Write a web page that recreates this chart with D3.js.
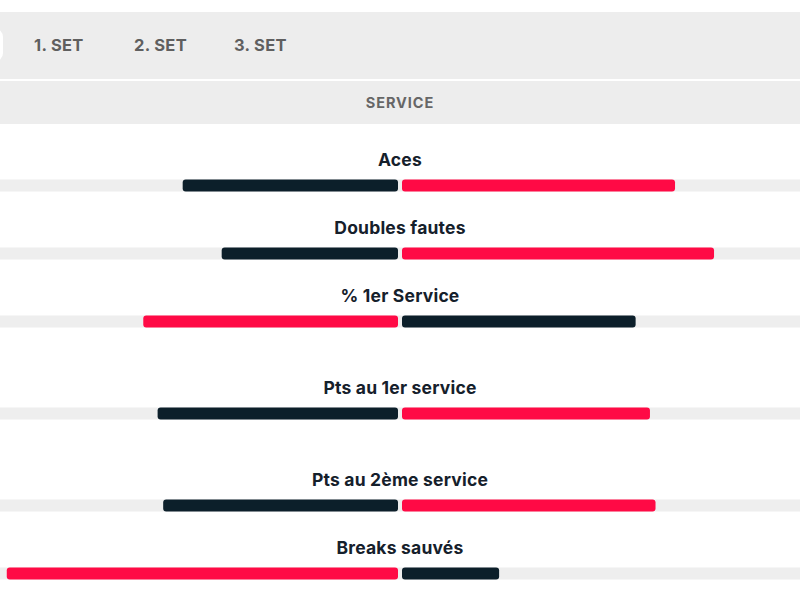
<!DOCTYPE html>
<html>
<head>
<meta charset="utf-8">
<script src="https://cdn.jsdelivr.net/npm/d3@7"></script>
<style>
  html, body { margin: 0; padding: 0; background: #ffffff; }
  svg { display: block; }
  text { font-family: Inter, "Noto Sans", sans-serif; }
</style>
</head>
<body>
<svg id="chart" width="800" height="600"></svg>
<script>
// ---- data ----
const tabs = ["1. SET", "2. SET", "3. SET"];
const sectionTitle = "SERVICE";
const categories = ["Aces", "Doubles fautes", "% 1er Service", "Pts au 1er service", "Pts au 2ème service", "Breaks sauvés"];
const leftValues  = [54.1, 44.3, 64.0, 60.4, 59.0, 98.3];   // % of half width
const rightValues = [68.6, 78.4, 58.7, 62.3, 63.7, 24.4];

// ---- layout / style ----
const W = 800, H = 600, cx = 400, gap = 2;
const RED = "#ff0a45", DARK = "#0c1f2a", TRACK = "#eeeeee", BAND = "#ededed";
const barH = 12;
const rowTop0 = 179.5, rowStep = 68;
const extraBefore = [0, 0, 0, 24, 48, 48];

const svg = d3.select("#chart");

// header bands
svg.append("rect").attr("x", 0).attr("y", 12).attr("width", W).attr("height", 67).attr("fill", BAND);
svg.append("rect").attr("x", 0).attr("y", 81).attr("width", W).attr("height", 43).attr("fill", BAND);
// selected tab (cut off at left)
svg.append("rect").attr("x", -60).attr("y", 28).attr("width", 63).attr("height", 34).attr("rx", 9).attr("fill", "#ffffff");

const tabX = d3.scalePoint().domain(tabs).range([34, 234]);
svg.selectAll("text.tab").data(tabs).enter().append("text")
  .attr("class", "tab")
  .attr("x", d => tabX(d)).attr("y", 51)
  .attr("font-size", 16.5).attr("font-weight", 700).attr("fill", "#5f5f5f")
  .attr("letter-spacing", 0.3)
  .text(d => d);

svg.append("text").attr("x", cx).attr("y", 108).attr("text-anchor", "middle")
  .attr("font-size", 14.5).attr("font-weight", 700).attr("fill", "#666666")
  .attr("letter-spacing", 0.9)
  .text(sectionTitle);

// scales
const w = d3.scaleLinear().domain([0, 100]).range([0, cx - gap]);
const rowY = (i) => rowTop0 + i * rowStep + extraBefore[i];

const rows = categories.map((c, i) => ({ c, l: leftValues[i], r: rightValues[i], i }));

const g = svg.selectAll("g.row").data(rows).enter().append("g")
  .attr("class", "row")
  .attr("transform", d => `translate(0,${rowY(d.i)})`);

g.append("rect").attr("x", 0).attr("y", 0).attr("width", W).attr("height", barH).attr("fill", TRACK);

g.append("rect")
  .attr("x", d => cx - gap - w(d.l)).attr("y", 0)
  .attr("width", d => w(d.l)).attr("height", barH).attr("rx", 3)
  .attr("fill", d => d.l >= d.r ? RED : DARK);

g.append("rect")
  .attr("x", cx + gap).attr("y", 0)
  .attr("width", d => w(d.r)).attr("height", barH).attr("rx", 3)
  .attr("fill", d => d.r > d.l ? RED : DARK);

g.append("text")
  .attr("x", cx).attr("y", -13.5)
  .attr("text-anchor", "middle")
  .attr("font-size", 17.5).attr("font-weight", 700).attr("fill", "#15202b")
  .attr("letter-spacing", 0.2)
  .text(d => d.c);
</script>
</body>
</html>
